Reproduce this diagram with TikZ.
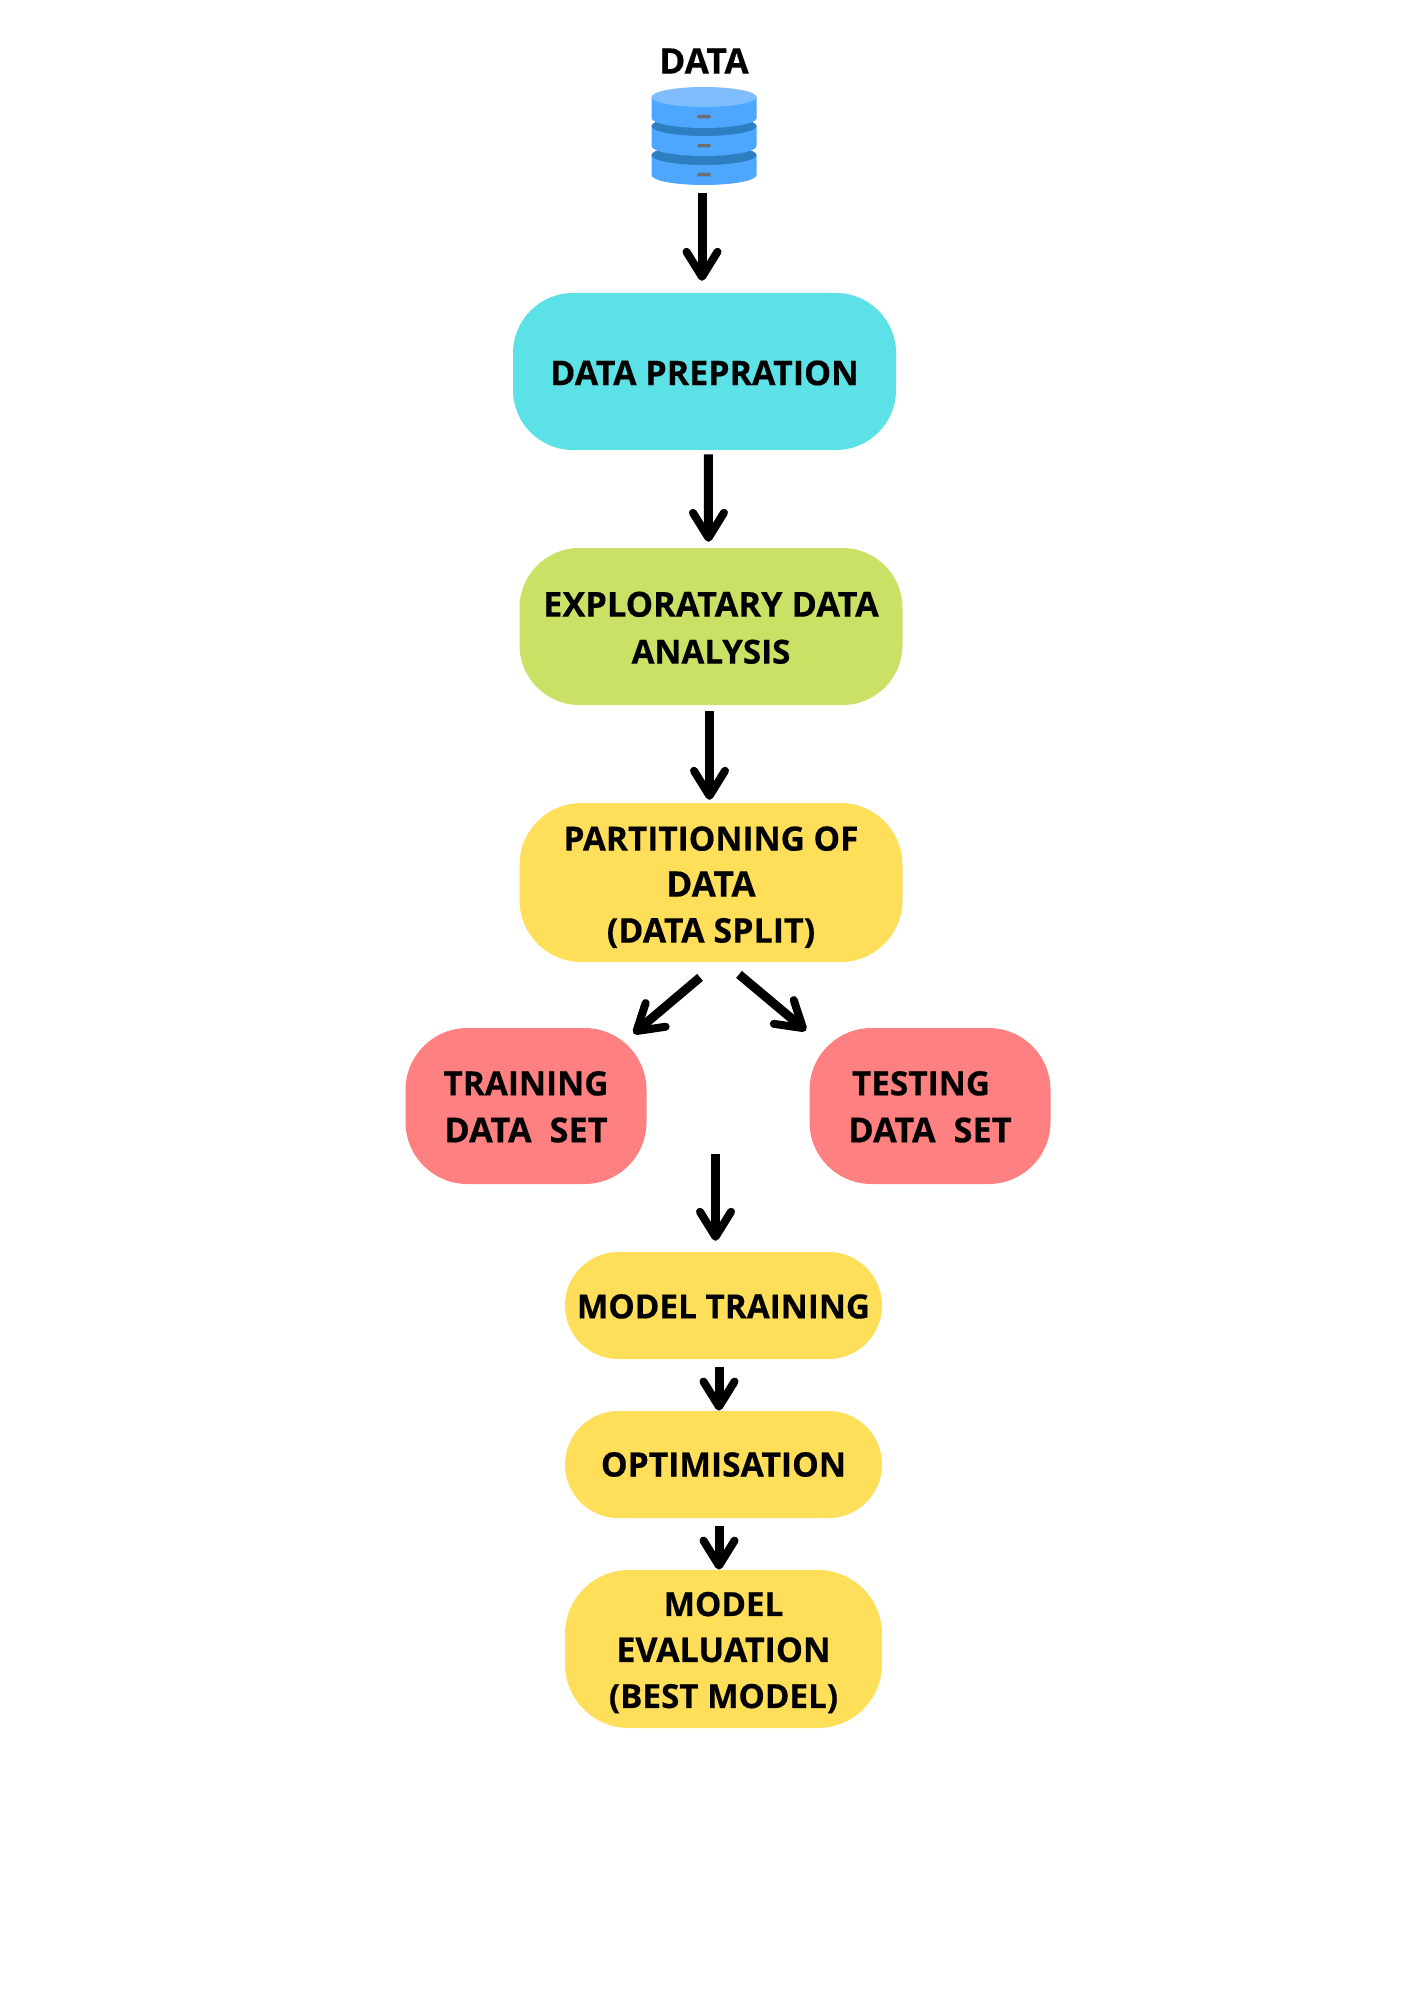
\documentclass[tikz,border=0pt]{standalone}
\usepackage{fontspec}
\setmainfont[BoldFeatures={FakeBold=0.4}]{Open Sans}
\usetikzlibrary{arrows.meta}
\definecolor{cyanbox}{HTML}{5CE1E6}
\definecolor{limebox}{HTML}{C9E265}
\definecolor{yellowbox}{HTML}{FFDE59}
\definecolor{redbox}{HTML}{FF8080}
\definecolor{dbtop}{HTML}{7FBDFF}
\definecolor{dbbody}{HTML}{4DA6FF}
\definecolor{dbdark}{HTML}{2E7FC2}
\definecolor{dbslit}{HTML}{6D6D6D}
\newcommand{\boxfont}[2]{\fontsize{#1pt}{#2pt}\selectfont\bfseries}
\newcommand{\lift}[1]{\rule{0pt}{#1pt}}
\newcommand{\sized}[2]{{\fontsize{#1pt}{23pt}\selectfont\bfseries #2}}
\tikzset{
  x=0.5pt,y=-0.5pt,
  flowbox/.style={rectangle,fill=#1,inner sep=0pt,align=center,text=black},
  arr/.style={line width=4.5pt,black,-{Straight Barb[length=12.5pt,width=15.5pt,line width=4pt,round]}},
  toplabel/.style={inner sep=0pt,text=black}
}
\begin{document}
\begin{tikzpicture}
\useasboundingbox (0,0) rectangle (1414,2000);
% database icon
\begin{scope}[xshift=0.25pt]
\fill[dbbody] (651,155) -- (651,175) arc[x radius=52.5,y radius=10,start angle=180,end angle=0] -- (756,155) -- cycle;
\fill[dbdark] (703.5,155) ellipse[x radius=52.5,y radius=10];
\fill[dbbody] (651,126) -- (651,146) arc[x radius=52.5,y radius=10,start angle=180,end angle=0] -- (756,126) -- cycle;
\fill[dbdark] (703.5,126) ellipse[x radius=52.5,y radius=10];
\fill[dbbody] (651,97) -- (651,118) arc[x radius=52.5,y radius=10,start angle=180,end angle=0] -- (756,97) -- cycle;
\fill[dbtop] (703.5,97) ellipse[x radius=52.5,y radius=10];
\foreach \yy in {116.7,145.7,174.7}{
  \fill[dbslit,rounded corners=0.8pt] (696.5,\yy-1.8) rectangle (710.5,\yy+1.8);
}
\end{scope}
\node[rectangle,inner sep=0pt,minimum width=52.5pt,minimum height=49pt] (db) at (703.5,136) {};
\node[toplabel,font=\boxfont{17.6}{23}] (datalabel) at (704,61) {DATA};
% boxes
\node[flowbox=cyanbox,minimum width=191.5pt,minimum height=78.5pt,rounded corners=30pt,font=\boxfont{17}{23.5}] (prep) at (704.5,371.5) {\lift{13.8}DATA PREPRATION};
\node[flowbox=limebox,minimum width=191.5pt,minimum height=78.5pt,rounded corners=30pt,font=\boxfont{17.2}{23.5}] (eda) at (711,626.5) {\lift{13.8}EXPLORATARY DATA\\\sized{16.6}{ANALYSIS}};
\node[flowbox=yellowbox,minimum width=191.5pt,minimum height=79.5pt,rounded corners=31pt,font=\boxfont{16.7}{23}] (split) at (711,882.5) {\lift{16.8}PARTITIONING OF\\\sized{17.6}{DATA}\\\sized{17}{(DATA SPLIT)}};
\node[flowbox=redbox,minimum width=120.5pt,minimum height=78pt,rounded corners=31pt,font=\boxfont{16.7}{23.5}] (train) at (526,1106) {\lift{13}TRAINING\\\sized{17.2}{DATA\ \ SET}};
\node[flowbox=redbox,minimum width=120.5pt,minimum height=78pt,rounded corners=31pt,font=\boxfont{16.7}{23.5}] (test) at (930,1106) {\lift{13}TESTING\hspace*{9pt}\\\sized{17.2}{DATA\ \ SET}};
\node[flowbox=yellowbox,minimum width=158.5pt,minimum height=53.5pt,rounded corners=26.7pt,font=\boxfont{16.65}{23}] (model) at (723.5,1305.5) {\lift{13}MODEL TRAINING};
\node[flowbox=yellowbox,minimum width=158.5pt,minimum height=53.5pt,rounded corners=26.7pt,font=\boxfont{16.8}{23}] (opt) at (723.5,1464.5) {OPTIMISATION};
\node[flowbox=yellowbox,minimum width=158.5pt,minimum height=79pt,rounded corners=32pt,font=\boxfont{16.6}{23}] (eval) at (723.5,1649) {\lift{15.6}MODEL\\\sized{17}{EVALUATION}\\(BEST MODEL)};
% connectors
\draw[arr] ([xshift=-0.75pt,yshift=-4pt]db.south) -- ([xshift=-1.25pt,yshift=5.9pt]prep.north);
\draw[arr] ([xshift=1.9pt,yshift=-2pt]prep.south) -- ([xshift=-1.25pt,yshift=2.9pt]eda.north);
\draw[arr] ([xshift=-0.75pt,yshift=-3pt]eda.south) -- ([xshift=-0.75pt,yshift=1.4pt]split.north);
\draw[arr] ([xshift=-5.5pt,yshift=-7.5pt]split.south) -- ([xshift=53.75pt,yshift=-3pt]train.north);
\draw[arr] ([xshift=14pt,yshift=-6pt]split.south) -- ([xshift=-62pt,yshift=-1.5pt]test.north);
\draw[arr] ([xshift=-4pt,yshift=49pt]model.north) -- ([xshift=-4pt,yshift=5.4pt]model.north);
\draw[arr] ([xshift=-2.25pt,yshift=-4pt]model.south) -- ([xshift=-2.25pt]opt.north);
\draw[arr] ([xshift=-2.25pt,yshift=-4pt]opt.south) -- ([xshift=-2.25pt]eval.north);
\end{tikzpicture}
\end{document}
